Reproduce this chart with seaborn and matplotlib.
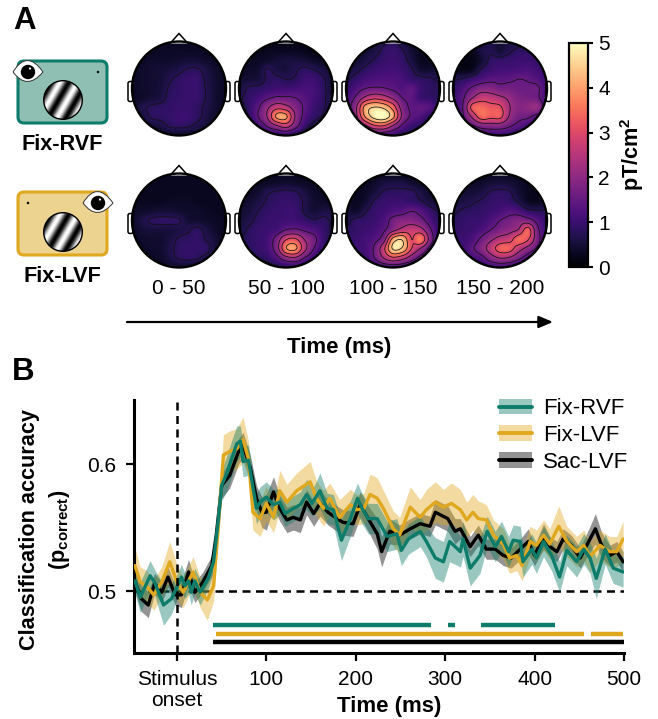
import numpy as np
import pandas as pd
import matplotlib
matplotlib.use("Agg")
import matplotlib.pyplot as plt
from matplotlib.patches import Circle, FancyBboxPatch, PathPatch, Patch, Polygon
from matplotlib.path import Path
from matplotlib.lines import Line2D
from matplotlib.legend_handler import HandlerTuple
from matplotlib.cm import ScalarMappable
from matplotlib.colors import Normalize
import seaborn as sns

sns.set_style("ticks")
plt.rcParams["font.family"] = ["Liberation Sans", "DejaVu Sans"]
plt.rcParams["mathtext.fontset"] = "custom"
plt.rcParams["mathtext.bf"] = "Liberation Sans:bold"
plt.rcParams["mathtext.rm"] = "Liberation Sans"
plt.rcParams["text.color"] = "black"
plt.rcParams["axes.labelcolor"] = "black"
plt.rcParams["xtick.color"] = "black"
plt.rcParams["ytick.color"] = "black"

W, H = 658, 719
TEAL, GOLD = "#0e7c6b", "#e0a81f"

# ---------------- data: classification accuracy ----------------
t_rvf = [-47,-41,-30,-25,-15,-6,0,5,9,13,
         16,20,26,35,41,46,50,56,61,67,
         71,74,80,84,89,93,100,108,115,121,
         128,138,145,151,160,168,175,184,194,202,
         207,214,224,235,246,251,259,272,279,289,
         298,305,317,320,328,339,347,356,363,371,
         376,384,387,397,402,410,419,428,436,447,
         455,462,469,479,488,499]
v_rvf = [.508,.495,.512,.507,.489,.494,.503,.511,.504,.508,
         .499,.508,.499,.510,.523,.554,.583,.593,.604,.616,
         .618,.602,.603,.586,.565,.570,.574,.568,.570,.561,
         .564,.568,.576,.569,.579,.565,.564,.540,.557,.573,
         .565,.557,.557,.543,.545,.532,.541,.547,.539,.526,
         .523,.539,.531,.541,.518,.528,.547,.535,.543,.531,
         .540,.539,.523,.533,.526,.539,.528,.511,.532,.523,
         .533,.526,.510,.533,.518,.515]
e_rvf = [.010,.012,.012,.010,.016,.012,.010,.010,.010,.010,
         .010,.010,.010,.008,.008,.010,.012,.014,.014,.014,
         .012,.012,.012,.012,.012,.012,.012,.012,.010,.010,
         .010,.010,.012,.010,.014,.012,.012,.016,.014,.012,
         .012,.012,.012,.012,.012,.012,.012,.012,.012,.016,
         .016,.016,.012,.014,.014,.014,.012,.012,.012,.012,
         .012,.012,.012,.012,.012,.012,.012,.012,.012,.012,
         .012,.012,.016,.012,.012,.012]

t_lvf = [-47,-41,-34,-26,-17,-8,0,7,18,26,
         34,41,46,52,59,67,74,80,85,93,
         100,108,115,123,134,149,156,164,171,182,
         194,201,209,216,224,231,242,249,261,272,
         279,289,298,307,317,324,331,337,346,354,
         365,372,380,386,395,402,410,417,427,436,
         447,455,462,473,484,492,499]
v_lvf = [.520,.507,.504,.497,.507,.523,.507,.499,.515,.499,
         .493,.504,.549,.607,.610,.612,.619,.604,.562,.557,
         .569,.558,.579,.570,.579,.586,.573,.565,.573,.558,
         .568,.564,.565,.576,.573,.565,.549,.544,.566,.558,
         .564,.570,.566,.569,.564,.556,.562,.557,.556,.544,
         .537,.526,.528,.520,.539,.536,.544,.537,.551,.539,
         .531,.536,.527,.536,.531,.531,.541]
e_lvf = [.014,.012,.012,.012,.012,.016,.014,.012,.012,.012,
         .016,.012,.012,.016,.016,.016,.018,.014,.014,.014,
         .014,.012,.016,.014,.014,.016,.014,.014,.012,.014,
         .012,.012,.012,.016,.016,.014,.014,.014,.016,.014,
         .016,.016,.014,.016,.016,.014,.014,.014,.012,.012,
         .012,.012,.012,.012,.012,.012,.012,.012,.016,.012,
         .012,.012,.012,.012,.012,.012,.014]

t_sac = [-47,-40,-32,-25,-17,-10,-2,5,13,20,
         29,39,44,50,59,69,74,82,89,95,
         100,108,115,123,130,138,145,153,160,169,
         179,186,197,205,214,224,229,238,249,261,
         272,283,289,303,311,317,328,337,346,356,
         365,374,384,393,400,410,417,425,432,441,
         451,462,468,475,484,492,499]
v_sac = [.508,.494,.489,.506,.499,.511,.497,.497,.515,.499,
         .507,.520,.544,.583,.591,.610,.615,.597,.573,.562,
         .562,.578,.565,.556,.558,.556,.570,.561,.569,.562,
         .557,.554,.553,.568,.557,.545,.531,.547,.544,.549,
         .553,.551,.562,.557,.547,.549,.535,.544,.533,.533,
         .528,.526,.533,.539,.528,.543,.535,.531,.541,.536,
         .526,.541,.549,.536,.528,.531,.523]
e_sac = [.008,.010,.010,.008,.008,.008,.008,.010,.010,.008,
         .008,.008,.008,.010,.010,.010,.010,.010,.010,.012,
         .014,.012,.010,.010,.010,.010,.010,.010,.010,.010,
         .010,.010,.010,.010,.010,.012,.012,.010,.008,.008,
         .008,.008,.010,.010,.010,.008,.008,.008,.008,.008,
         .008,.008,.008,.010,.008,.010,.008,.008,.008,.008,
         .008,.010,.012,.010,.008,.008,.008]

sig_rvf = [(40, 284), (303, 311), (340, 423)]
sig_lvf = [(44, 455), (463, 499)]
sig_sac = [(40, 500)]
sig_levels = [.4736, .4665, .4598]

# ---------------- data: topographies (pT/cm2, 11 x 11, top to bottom) ----------------
time_bins = ["0 - 50", "50 - 100", "100 - 150", "150 - 200"]
topo_rvf_1 = [[.3,.3,.3,.3,.3,.3,.3,.3,.3,.3,.3],
 [.3,.3,.3,.35,.35,.35,.35,.35,.3,.3,.3],
 [.3,.35,.4,.4,.4,.45,.5,.5,.4,.35,.3],
 [.35,.4,.45,.5,.55,.65,.8,.8,.6,.4,.35],
 [.35,.4,.45,.5,.7,.85,.95,.95,.65,.45,.35],
 [.35,.4,.45,.55,.8,.9,.95,.95,.7,.45,.35],
 [.35,.4,.5,.6,.85,.9,.95,.95,.7,.45,.35],
 [.35,.65,.8,.85,.9,.95,.95,.85,.65,.45,.35],
 [.3,.5,.8,.85,.9,1,1,.85,.6,.4,.3],
 [.3,.4,.5,.6,.8,.85,.8,.65,.5,.4,.3],
 [.3,.3,.35,.4,.4,.4,.4,.4,.35,.3,.3]]
topo_rvf_2 = [[.2,.2,.2,.2,.2,.2,.2,.2,.2,.2,.2],
 [.2,.2,.25,.3,.3,.3,.3,.25,.2,.2,.2],
 [.3,.3,.35,.4,.5,.55,.55,.5,.4,.3,.3],
 [.4,.4,.45,.8,.6,.55,.7,.85,.75,.6,.4],
 [.45,.5,.55,.8,.85,.75,.8,1.0,1.0,.8,.45],
 [.55,.8,.85,.95,1.05,1.05,1.1,1.15,1.1,.85,.5],
 [.7,.9,1.1,1.4,1.6,1.6,1.5,1.3,1.1,.85,.5],
 [.6,.9,1.4,2.1,2.7,2.5,1.9,1.4,1.0,.8,.5],
 [.4,.8,1.5,2.3,3.9,3.9,2.2,1.3,.9,.7,.4],
 [.3,.6,1.0,1.6,2.2,2.6,1.8,1.0,.6,.5,.3],
 [.3,.4,.5,.7,.8,.9,.7,.5,.4,.3,.3]]
topo_rvf_3 = [[.4,.4,.4,.5,.7,.8,.6,.4,.3,.3,.3],
 [.4,.4,.5,.6,.85,.95,.8,.5,.3,.3,.3],
 [.5,.5,.6,.8,.95,1.0,.9,.6,.3,.3,.4],
 [.6,.65,.85,1.0,1.05,1.1,1.0,.8,.45,.45,.55],
 [.7,.9,1.1,1.2,1.25,1.25,1.15,.95,.85,.8,.7],
 [.9,1.2,1.5,1.6,1.55,1.4,1.25,1.4,1.0,.85,.8],
 [1.1,1.6,2.4,2.8,2.6,2.1,1.5,1.4,1.0,.9,.8],
 [1.2,2.1,4.0,4.5,4.3,3.4,1.9,1.4,1.45,1.3,.8],
 [1.0,2.0,3.8,4.8,5.0,4.0,2.1,1.4,1.2,.8,.7],
 [.6,1.3,2.1,2.9,3.0,2.2,1.4,1.0,.8,.7,.6],
 [.5,.7,.9,1.1,1.1,1.0,.8,.7,.6,.5,.5]]
topo_rvf_4 = [[.3,.3,.3,.5,.6,.5,.6,.6,.6,.5,.5],
 [.3,.3,.3,.6,.7,.5,.7,.85,.85,.8,.6],
 [.25,.2,.2,.45,.85,.9,.95,1.0,1.0,.95,.8],
 [.3,.2,.3,.8,1.0,1.1,1.1,1.15,1.2,1.05,.9],
 [.7,.8,1.0,1.2,1.35,1.35,1.4,1.5,1.45,1.3,1.0],
 [.9,1.2,1.6,1.9,1.9,1.7,1.7,1.6,1.6,1.6,1.1],
 [1.0,1.4,2.2,2.7,2.6,2.4,2.1,1.8,1.7,1.6,1.1],
 [1.0,1.5,3.2,3.4,3.2,3.1,2.3,1.9,2.0,2.1,1.1],
 [.9,1.4,2.4,3.4,3.2,3.2,2.2,1.7,1.6,1.3,1.0],
 [.7,1.0,1.4,1.8,1.9,1.9,1.6,1.3,1.1,.9,.7],
 [.6,.7,.8,1.0,1.0,1.0,.9,.8,.7,.6,.6]]
topo_lvf_1 = [[.3,.3,.3,.3,.3,.3,.3,.3,.3,.3,.3],
 [.3,.3,.3,.3,.3,.3,.3,.3,.3,.3,.3],
 [.3,.3,.3,.3,.3,.3,.3,.3,.3,.3,.3],
 [.3,.3,.3,.3,.35,.35,.35,.3,.3,.3,.3],
 [.35,.4,.45,.5,.5,.45,.4,.4,.35,.3,.3],
 [.4,.6,.8,.85,.85,.8,.5,.45,.4,.35,.3],
 [.35,.5,.55,.55,.55,.6,.7,.85,.6,.4,.3],
 [.3,.4,.45,.45,.6,.8,.85,.9,.7,.5,.3],
 [.3,.35,.4,.45,.65,.85,.9,.9,.85,.5,.3],
 [.3,.3,.35,.4,.6,.8,.85,.8,.6,.4,.3],
 [.3,.3,.3,.3,.4,.4,.4,.4,.3,.3,.3]]
topo_lvf_2 = [[.3,.3,.3,.3,.3,.3,.3,.3,.3,.3,.3],
 [.3,.3,.3,.35,.4,.45,.4,.35,.3,.3,.3],
 [.35,.35,.45,.7,.8,.85,.8,.6,.4,.35,.3],
 [.4,.45,.6,.8,.9,.95,.9,.7,.45,.4,.4],
 [.45,.55,.75,.9,.95,1,1,.7,.5,.6,.6],
 [.5,.65,.85,.95,1,1.05,1.05,.95,.8,.85,.7],
 [.6,.8,.95,1.0,1.1,1.5,1.6,1.4,1.2,.95,.7],
 [.7,.85,.95,1.1,1.8,2.9,3.1,2.2,1.7,1.0,.7],
 [.5,.8,.95,1.1,1.9,3.7,3.9,2.5,1.5,.9,.6],
 [.4,.6,.8,.9,1.3,2.0,2.2,1.5,1.0,.7,.4],
 [.3,.4,.5,.6,.7,.8,.8,.7,.5,.4,.3]]
topo_lvf_3 = [[.25,.25,.25,.25,.25,.25,.25,.25,.25,.25,.25],
 [.3,.3,.3,.4,.55,.6,.6,.45,.35,.3,.3],
 [.35,.3,.35,.55,.8,.85,.85,.85,.6,.4,.4],
 [.4,.3,.45,.8,.95,1,1,.9,.8,.55,.45],
 [.5,.4,.7,.95,1.05,1.2,1.3,1.5,1.3,.95,.7],
 [.65,.85,.9,1.0,1.2,1.7,1.9,1.9,1.7,1.2,.8],
 [.8,.9,1.0,1.1,1.4,2.0,2.5,2.7,2.5,1.6,.9],
 [.85,1.0,1.1,1.3,1.9,4.0,4.4,3.0,3.6,1.9,.9],
 [.6,1.0,1.1,1.6,2.8,4.6,4.4,3.0,2.2,1.3,.7],
 [.45,.7,1.0,1.5,2.3,2.9,2.6,1.9,1.3,.9,.5],
 [.4,.5,.7,.9,1.1,1.2,1.1,.9,.7,.5,.4]]
topo_lvf_4 = [[.3,.3,.3,.3,.3,.3,.3,.3,.3,.3,.3],
 [.3,.3,.35,.4,.5,.55,.5,.4,.3,.3,.3],
 [.4,.45,.5,.6,.8,.85,.8,.5,.3,.25,.3],
 [.55,.6,.7,.8,.9,.95,.9,.7,.35,.3,.45],
 [.7,.8,.85,.9,1.0,1.1,1.3,1.2,.9,.8,.8],
 [.8,.9,.95,1.0,1.2,1.5,1.7,1.9,1.8,1.3,.9],
 [.85,.95,1.0,1.2,1.5,1.8,2.0,2.3,3.3,1.7,1.0],
 [.9,1.0,1.2,1.6,2.1,2.5,2.7,3.4,3.1,1.8,1.0],
 [.8,1.0,1.4,1.9,2.6,3.3,3.3,2.6,2.0,1.4,.8],
 [.6,.9,1.1,1.3,1.9,2.3,2.2,1.7,1.2,.9,.6],
 [.5,.6,.7,.9,1.0,1.1,1.0,.8,.7,.5,.5]]
contour_levels = [.75, 1.5, 2.25, 3, 3.75, 4.5]


def px_axes(fig, x0, y0, x1, y1, **kw):
    return fig.add_axes([x0 / W, 1 - y1 / H, (x1 - x0) / W, (y1 - y0) / H], **kw)


def upsample(a, n):
    """Catmull-Rom smoothing of a read grid, for display only."""
    def one(arr, n):
        m = arr.shape[0]
        u = np.linspace(0, m - 1, n)
        i = np.clip(u.astype(int), 0, m - 2)
        f = (u - i)[:, None]
        p0 = arr[np.clip(i - 1, 0, m - 1)]
        p1, p2 = arr[i], arr[i + 1]
        p3 = arr[np.clip(i + 2, 0, m - 1)]
        return .5 * (2 * p1 + (p2 - p0) * f + (2 * p0 - 5 * p1 + 4 * p2 - p3) * f ** 2
                     + (3 * p1 - p0 - 3 * p2 + p3) * f ** 3)
    return one(one(np.asarray(a, float), n).T, n).T


fig = plt.figure(figsize=(W / 100, H / 100), dpi=100)
cmap = sns.color_palette("magma", as_cmap=True)

# ---------------- topographies ----------------
centres_x = [179, 286, 393, 500]
centres_y = [88.5, 220.5]
R = 47
maps = [[topo_rvf_1, topo_rvf_2, topo_rvf_3, topo_rvf_4],
        [topo_lvf_1, topo_lvf_2, topo_lvf_3, topo_lvf_4]]
N = 95
yy, xx = np.mgrid[-1:1:N * 1j, -1:1:N * 1j]
mask = xx ** 2 + yy ** 2 > 1.0
for cy, row in zip(centres_y, maps):
    for cx, grid in zip(centres_x, row):
        a = px_axes(fig, cx - R, cy - R, cx + R, cy + R)
        z = np.clip(upsample(grid, N), 0.02, None)
        sns.heatmap(z, mask=mask, cmap=cmap, vmin=0, vmax=5, cbar=False, ax=a,
                    xticklabels=False, yticklabels=False, square=False, rasterized=True)
        g = np.arange(N) + .5
        a.contour(g, g, np.ma.array(z, mask=xx ** 2 + yy ** 2 > .985), levels=contour_levels,
                  colors="#111111", linewidths=.55)
        a.axis("off")

# ---------------- colour bar ----------------
cax = px_axes(fig, 569, 43, 588, 267)
cb = fig.colorbar(ScalarMappable(Normalize(0, 5), cmap), cax=cax)
cb.set_ticks([0, 1, 2, 3, 4, 5])
cb.ax.tick_params(labelsize=15, length=3.5, width=1.5, pad=4, colors="black", right=True)
cb.outline.set_linewidth(1.6)
cb.outline.set_edgecolor("black")

# ---------------- decoding time course ----------------
ax = px_axes(fig, 134, 400, 624, 653)
series = [("Sac-LVF", t_sac, v_sac, e_sac, "black"),
          ("Fix-LVF", t_lvf, v_lvf, e_lvf, GOLD),
          ("Fix-RVF", t_rvf, v_rvf, e_rvf, TEAL)]
for name, t, v, e, c in series:
    df = pd.DataFrame({"t": t, "v": v, "e": e})
    ax.fill_between(df.t, df.v - df.e, df.v + df.e, color=c, alpha=.42, lw=0, zorder=2)
    sns.lineplot(data=df, x="t", y="v", color=c, lw=2.4, estimator=None, ax=ax, zorder=3, legend=False)

ax.axhline(.5, color="black", lw=1.8, dashes=(3.2, 2.2), zorder=1.5)
ax.axvline(0, color="black", lw=1.8, dashes=(3.2, 2.2), zorder=4)
for level, spans, c in zip(sig_levels, [sig_rvf, sig_lvf, sig_sac], [TEAL, GOLD, "black"]):
    for s0, s1 in spans:
        ax.plot([s0, s1], [level, level], color=c, lw=3.2, solid_capstyle="butt", zorder=3)

ax.set_xlim(-48, 500)
ax.set_ylim(.4512, .6504)
ax.set_xticks([0, 100, 200, 300, 400, 500])
ax.set_xticklabels(["Stimulus\nonset", "100", "200", "300", "400", "500"], linespacing=1.08)
ax.set_yticks([.5, .6])
ax.set_yticklabels(["0.5", "0.6"])
ax.tick_params(labelsize=15, length=5.5, width=1.6, colors="black")
ax.tick_params(axis="x", pad=7)
ax.tick_params(axis="y", pad=7.5)
sns.despine(ax=ax)
ax.spines[["left", "bottom"]].set_linewidth(2.2)
ax.spines[["left", "bottom"]].set_color("black")
ax.patch.set_alpha(0)
ax.set_xlabel("Time (ms)", fontsize=16, fontweight="bold", va="center", color="black")
ax.xaxis.set_label_coords(.52, -.213)
ax.set_ylabel("")

handles = []
for name, c in [("Fix-RVF", TEAL), ("Fix-LVF", GOLD), ("Sac-LVF", "black")]:
    handles.append((Patch(color=c, alpha=.42, lw=0), Line2D([], [], color=c, lw=2.8)))
ax.legend(handles, ["Fix-RVF", "Fix-LVF", "Sac-LVF"], handler_map={tuple: HandlerTuple(ndivide=1, pad=0)},
          frameon=False, fontsize=16, loc="upper left", bbox_to_anchor=(495 / W, 1 - 394 / H),
          bbox_transform=fig.transFigure, handlelength=1.45, handleheight=.7, handletextpad=.5,
          labelspacing=.25, borderpad=.2, borderaxespad=0)

# ---------------- page-level drawing, pixel coordinates ----------------
ov = fig.add_axes([0, 0, 1, 1], zorder=10)
ov.set_xlim(0, W)
ov.set_ylim(H, 0)
ov.axis("off")
ov.patch.set_alpha(0)

for cy in centres_y:
    for cx in centres_x:
        for side in (-1, 1):
            x0 = cx + R - 1 if side > 0 else cx - R - 4
            ov.add_patch(FancyBboxPatch((x0, cy - 7), 5, 20, boxstyle="round,pad=0,rounding_size=2",
                                        fc="white", ec="black", lw=1.1, zorder=1))
        ov.add_patch(Polygon([[cx - 9, cy - R + 2], [cx, cy - R - 8], [cx + 9, cy - R + 2]], closed=False,
                             fc="white", ec="black", lw=1.1, zorder=1))
        ov.add_patch(Circle((cx, cy), R, fc="none", ec="black", lw=1.7, zorder=3))

# stimulus cartoons
for (y0, y1, fill, edge, gy, eye_x, dot_x) in [(61, 123, "#8fbfb3", TEAL, 100, 28, 98),
                                               (192, 255, "#ecd390", GOLD, 232, 98, 28)]:
    ov.add_patch(FancyBboxPatch((18, y0), 89, y1 - y0, boxstyle="round,pad=0,rounding_size=6",
                                fc=fill, ec=edge, lw=2.2, zorder=1))
    gx_, gy_ = np.meshgrid(np.arange(63 - 20, 63 + 20.5, .5), np.arange(gy - 20, gy + 20.5, .5))
    grating = np.sin(2 * np.pi * ((gx_ - 63) * .87 + (gy_ - gy) * .5) / 15.5)
    im = ov.imshow(grating, cmap="gray", extent=(43, 83, gy + 20, gy - 20), aspect="auto", zorder=2)
    disc = Circle((63, gy), 19.3, fc="none", ec="black", lw=1.0, zorder=3)
    ov.add_patch(disc)
    im.set_clip_path(disc)
    eye_y = y0 + 11
    path = Path([(eye_x - 15, eye_y), (eye_x - 1, eye_y - 23), (eye_x + 15, eye_y), (eye_x - 1, eye_y + 19), (eye_x - 15, eye_y)],
                [Path.MOVETO, Path.CURVE3, Path.CURVE3, Path.CURVE3, Path.CURVE3])
    ov.add_patch(PathPatch(path, fc="white", ec="#333333", lw=.7, zorder=4))
    ov.add_patch(Circle((eye_x, eye_y), 7.2, fc="black", ec="none", zorder=5))
    ov.add_patch(Circle((eye_x + 2, eye_y - 3.5), 1.1, fc="white", ec="none", zorder=6))
    ov.add_patch(Circle((dot_x, eye_y), 1.3, fc="#111111", ec="none", zorder=4))
ov.set_xlim(0, W)
ov.set_ylim(H, 0)

ov.text(24.5, 21, "A", fontsize=22.5, fontweight="bold", ha="center", va="center")
ov.text(23, 372, "B", fontsize=22.5, fontweight="bold", ha="center", va="center")
ov.text(62, 144, "Fix-RVF", fontsize=15.6, fontweight="bold", ha="center", va="center")
ov.text(62, 277, "Fix-LVF", fontsize=15.6, fontweight="bold", ha="center", va="center")
for cx, lab in zip(centres_x, time_bins):
    ov.text(cx, 289, lab, fontsize=15, ha="center", va="center")
ov.annotate("", xy=(553, 322), xytext=(127, 322),
            arrowprops=dict(arrowstyle="-|>,head_length=.85,head_width=.36", color="black", lw=1.6,
                            shrinkA=0, shrinkB=0))
ov.text(339, 347, "Time (ms)", fontsize=16, fontweight="bold", ha="center", va="center")
ov.text(632, 154, r"pT/cm$\mathbf{^{2}}$", fontsize=15.6, fontweight="bold", rotation=90, ha="center", va="center")
ov.text(30, 530, "Classification accuracy", fontsize=15.6, fontweight="bold", rotation=90, ha="center", va="center")
ov.text(60, 530, r"(p$\mathbf{_{correct}}$)", fontsize=15.6, fontweight="bold", rotation=90, ha="center", va="center")

fig.savefig("out.png", dpi=100)
